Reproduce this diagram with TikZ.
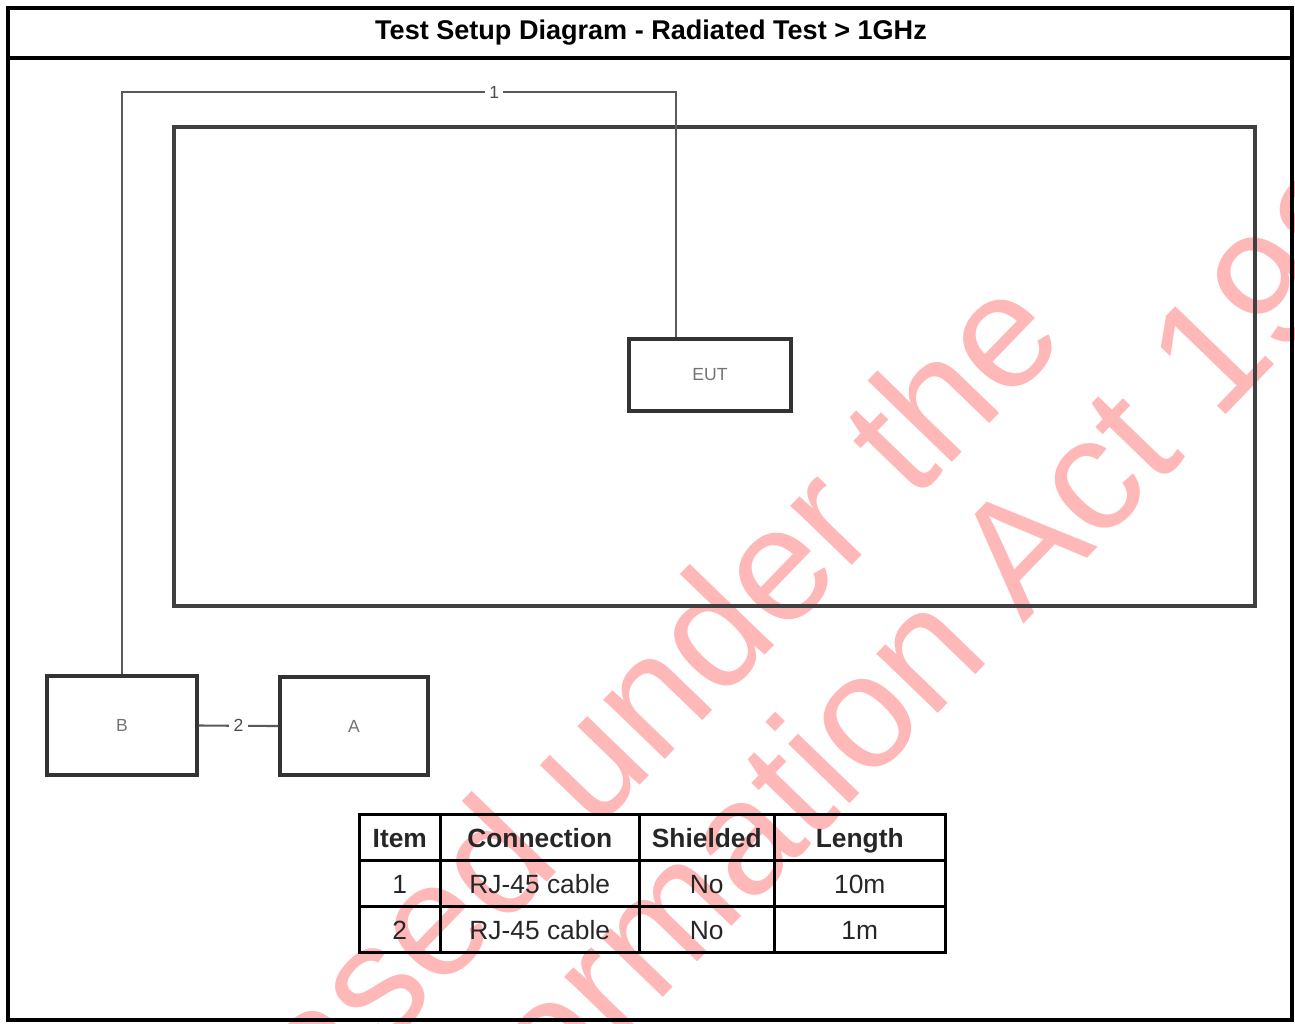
\documentclass[tikz,border=0pt]{standalone}
\usepackage{fontspec}
\setmainfont{Liberation Sans}
\usetikzlibrary{matrix}

\begin{document}
\begin{tikzpicture}[
  x=0.1mm, y=-0.1mm,
  frame/.style={draw=black, line width=1pt},
  room/.style={draw=black!75, line width=1.1pt, minimum width=108.1mm, minimum height=47.9mm},
  unit/.style={draw=black!80, line width=0.9pt, inner sep=0pt,
               font=\fontsize{5}{6}\selectfont, text=black!55},
  cable/.style={draw=black!65, line width=0.6pt},
  tag/.style={fill=white, inner sep=1.2pt, font=\fontsize{5}{6}\selectfont, text=black!70},
  cell/.style={draw=black, line width=0.9pt, inner sep=0pt, anchor=center,
               text height=1.5ex, text depth=0.4ex,
               minimum height=4.6mm, font=\fontsize{7.5}{9}\selectfont, text=black!85},
  wmark/.style={rotate=46, text=red!28, font=\fontsize{46}{56}\selectfont},
]
\useasboundingbox (0,0) rectangle (1295,1023);

% ---------------- watermark, behind everything ----------------
\begin{scope}
  \clip (0,0) rectangle (1295,1023);
  \node[wmark] (wmarkA) at (538,808) {Released under the};
  \node[wmark] (wmarkB) at (605,975) {Freedom of Information Act 1982};
\end{scope}

% ---------------- sheet and title ----------------
\draw[frame] (8,8) rectangle (1292,1020);
\draw[frame] (8,58) -- (1292,58);
\node[font=\fontsize{7.7}{9}\selectfont\bfseries] (title) at (651,33)
  {Test Setup Diagram - Radiated Test > 1GHz};

% ---------------- chamber and units ----------------
\node[room] (chamber) at (714.5,366.5) {};
\node[unit, minimum width=16.2mm, minimum height=7.2mm] (eut)  at (710,375)   {EUT};
\node[unit, minimum width=15mm,   minimum height=9.9mm] (boxB) at (122,725.5) {B};
\node[unit, minimum width=14.8mm, minimum height=9.8mm] (boxA) at (354,726)   {A};

% cable 1 runs over the chamber to the EUT
\coordinate (c1top) at (676,92);
\draw[cable] (boxB.north) |- node[tag, pos=0.836] {1} (c1top) -- (c1top |- eut.north);

% cable 2 joins the two support units
\draw[cable] (boxB.east) -- node[tag] {2} (boxA.west);

% ---------------- cable list ----------------
\matrix (tbl) [matrix of nodes, anchor=north west, inner sep=0pt, nodes={cell},
  column sep=-0.9pt, row sep=-0.9pt,
  column 1/.style={nodes={minimum width=8.1mm}},
  column 2/.style={nodes={minimum width=19.9mm}},
  column 3/.style={nodes={minimum width=13.5mm}},
  column 4/.style={nodes={minimum width=17.1mm}},
  row 1/.style={nodes={font=\fontsize{7.5}{9}\selectfont\bfseries}},
] at (357,812) {
  Item & Connection  & Shielded & Length \\
  1    & RJ-45 cable & No       & 10m    \\
  2    & RJ-45 cable & No       & 1m     \\
};

\end{tikzpicture}
\end{document}
